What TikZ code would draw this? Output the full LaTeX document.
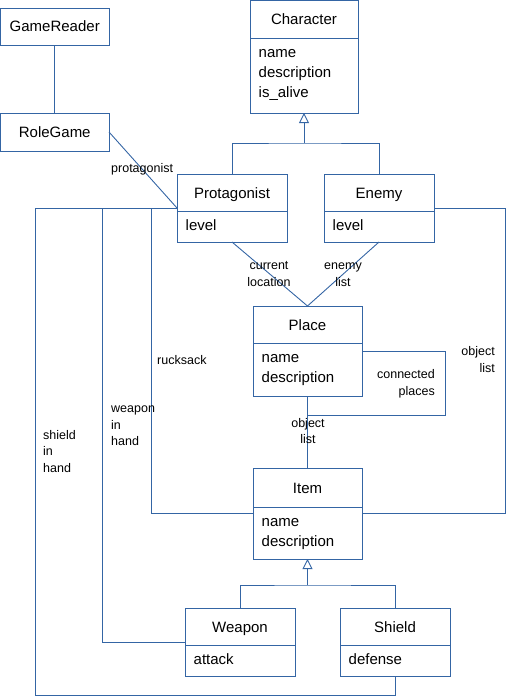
\documentclass[tikz,border=0pt]{standalone}
\usepackage{fontspec}
\setmainfont{Liberation Sans}
\usetikzlibrary{calc,arrows.meta}
\definecolor{umlblue}{RGB}{52,101,164}
\tikzset{
  ln/.style={draw=umlblue, line width=0.9pt},
  cls/.style={draw=umlblue, line width=0.9pt, fill=white, rectangle, inner sep=0pt, outer sep=0pt, anchor=north west, font=\fontsize{15}{20}\selectfont},
  ttl/.style={font=\fontsize{15}{20}\selectfont, inner sep=0pt, anchor=base},
  attr/.style={font=\fontsize{15}{20}\selectfont, inner sep=0pt, anchor=base west},
  lbl/.style={font=\fontsize{12.5}{16.5}\selectfont, inner sep=0pt},
  inh/.style={ln, -{Triangle[open, width=10pt, length=10pt, line width=0.9pt]}},
}
% #1 id, #2 x, #3 y, #4 w, #5 h, #6 header height, #7 title, #8 attributes
\newcommand\umlclass[8]{%
  \node[cls, minimum width=#4pt, minimum height=#5pt] (#1) at (#2,#3) {};
  \draw[ln] ($(#1.north west)+(0,#6)$) -- ($(#1.north east)+(0,#6)$);
  \node[ttl] (#1-title) at ($(#1.north)+(0,#6/2+5.5)$) {#7};
  \foreach \a [count=\i] in {#8} {
    \node[attr] (#1-a\i) at ($(#1.north west)+(8.5,#6+19.5+20*\i-20)$) {\a};
  }%
}
\begin{document}
\begin{tikzpicture}[x=1pt, y=-1pt]
\useasboundingbox (0,0) rectangle (507,696);

% classes
\node[cls, minimum width=108.5pt, minimum height=37pt] (gamereader) at (0.5,8) {GameReader};
\node[cls, minimum width=108.5pt, minimum height=38pt] (rolegame) at (0.5,113) {RoleGame};
\umlclass{character}{250}{0.5}{108}{112.5}{37.5}{Character}{name,description,is\_alive}
\umlclass{protagonist}{177}{174}{110}{68}{37}{Protagonist}{level}
\umlclass{enemy}{324}{174}{110}{68}{37}{Enemy}{level}
\umlclass{place}{253}{306}{109}{90}{37}{Place}{name,description}
\umlclass{item}{253}{468}{109}{91}{39}{Item}{name,description}
\umlclass{weapon}{185}{608}{110}{68}{37}{Weapon}{attack}
\umlclass{shield}{340}{608}{110}{68}{37}{Shield}{defense}

% connectors
\draw[ln] (gamereader) -- (rolegame);
\draw[ln] (rolegame.east) -- (protagonist.west);

\coordinate (charjoin) at ($(character.south)+(0,30)$);
\draw[ln] (protagonist.north) |- (charjoin) -| (enemy.north);
\draw[inh] (charjoin) -- (character.south);

\draw[ln] (protagonist.south) -- (place.north);
\draw[ln] (enemy.south) -- (place.north);

\draw[ln] (place.east) -| ($(place.south)+(137.5,19)$) -| (place.south);
\draw[ln] (place.south) -- (item.north);

\draw[ln] (enemy.east) -| ($(item.east)+(143,0)$) -- (item.east);
\draw[ln] (protagonist.west) -| ($(item.west)+(-102,0)$) -- (item.west);
\draw[ln] (protagonist.west) -| ($(weapon.west)+(-83,0)$) -- (weapon.west);
\draw[ln] (protagonist.west) -| ($(shield.south)+(-360,19)$) -| (shield.south);

\coordinate (itemjoin) at ($(item.south)+(0,26)$);
\draw[ln] (weapon.north) |- (itemjoin) -| (shield.north);
\draw[inh] (itemjoin) -- (item.south);

% labels (multi-line labels are anchored at the baseline of their last line)
\node[lbl, anchor=base west] (l-protagonist) at (111,172) {protagonist};
\node[lbl, anchor=base, align=center] (l-current) at (269,286) {current\\location};
\node[lbl, anchor=base, align=center] (l-enemy) at (343,286) {enemy\\list};
\node[lbl, anchor=base west] (l-rucksack) at (157,364.5) {rucksack};
\node[lbl, anchor=base east, align=right] (l-connected) at (435,395) {connected\\places};
\node[lbl, anchor=base, align=center] (l-objlist) at (308,443.5) {object\\list};
\node[lbl, anchor=base east, align=right] (l-objlist2) at (495,372) {object\\list};
\node[lbl, anchor=base west, align=left] (l-weapon) at (111,445.5) {weapon\\in\\hand};
\node[lbl, anchor=base west, align=left] (l-shield) at (43,472) {shield\\in\\hand};
\end{tikzpicture}
\end{document}
